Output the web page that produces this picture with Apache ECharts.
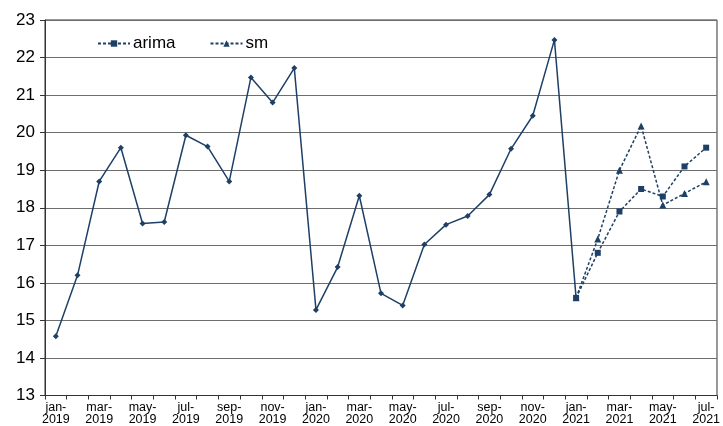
<!DOCTYPE html>
<html><head><meta charset="utf-8">
<script src="https://cdn.jsdelivr.net/npm/echarts@6/dist/echarts.min.js"></script>
<style>html,body{margin:0;padding:0;background:#fff}#c{width:723px;height:426px}</style>
</head><body><div id="c"></div>
<script>
const categories = ["jan-2019","feb-2019","mar-2019","apr-2019","may-2019","jun-2019","jul-2019","aug-2019","sep-2019","oct-2019","nov-2019","dec-2019",
"jan-2020","feb-2020","mar-2020","apr-2020","may-2020","jun-2020","jul-2020","aug-2020","sep-2020","oct-2020","nov-2020","dec-2020",
"jan-2021","feb-2021","mar-2021","apr-2021","may-2021","jun-2021","jul-2021"];
const actual = [14.58,16.2,18.7,19.6,17.58,17.62,19.93,19.63,18.7,21.47,20.8,21.72,
15.28,16.42,18.32,15.72,15.4,17.02,17.55,17.78,18.35,19.57,20.45,22.47,15.6];
const arima = [15.6,16.8,17.9,18.5,18.3,19.1,19.6];
const sm = [15.6,17.17,19.0,20.18,18.07,18.38,18.69];
const forecastStart = 24;

function pad(arr){ const out = new Array(forecastStart).fill(null); return out.concat(arr); }
const col = '#1F4066';
const chart = echarts.init(document.getElementById('c'));
chart.setOption({
  animation:false,
  grid:{left:45,right:2,top:20,bottom:30,show:true,borderColor:'#333',borderWidth:1},
  legend:{show:true,left:92,top:30,itemGap:34,itemWidth:32,itemHeight:8,
    data:['arima','sm'],textStyle:{fontSize:17,color:'#000',fontFamily:'Liberation Sans, Arial',padding:[0,0,0,-2]}},
  xAxis:{type:'category',data:categories,boundaryGap:true,
    axisLine:{lineStyle:{color:'#333'}},
    axisTick:{show:true,interval:0,length:4,lineStyle:{color:'#333'}},
    axisLabel:{interval:1,color:'#000',fontSize:12.5,lineHeight:12,margin:6,fontFamily:'Liberation Sans, Arial',
      formatter:v=>v.replace('-','-\n')}},
  yAxis:{type:'value',min:13,max:23,interval:1,
    axisLine:{show:true,lineStyle:{color:'#333'}},
    axisTick:{show:true,length:5,lineStyle:{color:'#333'}},
    splitLine:{lineStyle:{color:'#6e6e6e',width:1}},
    axisLabel:{color:'#000',fontSize:17,margin:10,fontFamily:'Liberation Sans, Arial'}},
  series:[
    {name:'actual',type:'line',data:actual,symbol:'diamond',symbolSize:6,
      lineStyle:{color:col,width:1.5},itemStyle:{color:col}},
    {name:'arima',type:'line',data:pad(arima),symbol:'rect',symbolSize:6,
      lineStyle:{color:col,width:1.5,type:[3,2]},itemStyle:{color:col}},
    {name:'sm',type:'line',data:pad(sm),symbol:'triangle',symbolSize:7,
      lineStyle:{color:col,width:1.5,type:[3,2]},itemStyle:{color:col}}
  ]
});
</script></body></html>
